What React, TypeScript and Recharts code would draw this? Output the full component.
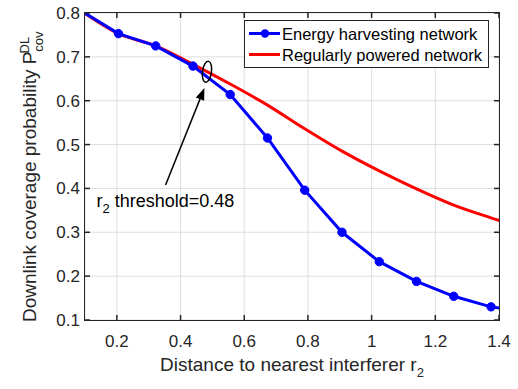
import React from 'react';
import {
  LineChart,
  Line,
  XAxis,
  YAxis,
  CartesianGrid,
  Legend,
  ReferenceDot,
  ReferenceLine,
} from 'recharts';

// distance to nearest interferer r2 (sample points, first and last fall outside the axes)
const distances = [0.088, 0.205, 0.322, 0.439, 0.556, 0.673, 0.79, 0.907, 1.024, 1.141, 1.258, 1.375, 1.492];
const energyHarvesting = [0.805, 0.753, 0.725, 0.679, 0.614, 0.515, 0.396, 0.3, 0.233, 0.188, 0.154, 0.13, 0.118];
const regularlyPowered = [0.805, 0.753, 0.725, 0.683, 0.638, 0.59, 0.536, 0.485, 0.44, 0.399, 0.362, 0.333, 0.306];

const xTicks = [0.2, 0.4, 0.6, 0.8, 1, 1.2, 1.4];
const yTicks = [0.1, 0.2, 0.3, 0.4, 0.5, 0.6, 0.7, 0.8];
const xDomain = [0.1, 1.4];
const yDomain = [0.1, 0.8];

// annotation (data coords)
const thresholdMark = { x: 0.483, y: 0.666 };
const arrowFrom = { x: 0.353, y: 0.408 };
const arrowTo = { x: 0.475, y: 0.629 };
const thresholdText = { x: 0.136, y: 0.358 };

const data = distances.map((x, i) => ({
  x,
  eh: energyHarvesting[i],
  rp: regularlyPowered[i],
}));

const FONT = '"Liberation Sans", Arial, Helvetica, sans-serif';
const AXIS = '#262626';
const GRID = '#dfdfdf';
const TICK_LEN = 5;

// plot box
const W = 518;
const H = 389;
const PLOT = { left: 85, top: 13, right: 499, bottom: 320 };
const sx = (v: number) => PLOT.left + ((v - xDomain[0]) / (xDomain[1] - xDomain[0])) * (PLOT.right - PLOT.left);
const sy = (v: number) => PLOT.bottom - ((v - yDomain[0]) / (yDomain[1] - yDomain[0])) * (PLOT.bottom - PLOT.top);

const BlueDot = (props: any) => {
  const { cx, cy, payload, index } = props;
  if (payload.x < xDomain[0] || payload.x > xDomain[1]) return <g key={index} />;
  return <circle key={index} cx={cx} cy={cy} r={4.2} fill="#0000ff" stroke="#0000ff" />;
};

const LeftTick = (props: any) => {
  const { x, y, payload } = props;
  return (
    <text x={x} y={y} dy="0.35em" textAnchor="end" fontSize={17} fill={AXIS} fontFamily={FONT}>
      {Number(payload.value).toFixed(1)}
    </text>
  );
};

const BottomTick = (props: any) => {
  const { x, y, payload } = props;
  return (
    <text x={x} y={y} dy="0.8em" textAnchor="middle" fontSize={17} fill={AXIS} fontFamily={FONT}>
      {String(payload.value)}
    </text>
  );
};

const YLabel = () => (
  <text transform="translate(36,322) rotate(-90)" fontSize={19} fill={AXIS} fontFamily={FONT}>
    Downlink coverage probability P
    <tspan fontSize={13} dy={7}>cov</tspan>
    <tspan fontSize={13} dx={-22} dy={-14}>DL</tspan>
  </text>
);

const XLabel = () => (
  <text x={292} y={371} textAnchor="middle" fontSize={19} fill={AXIS} fontFamily={FONT}>
    Distance to nearest interferer r
    <tspan fontSize={13} dy={6}>2</tspan>
  </text>
);

const Arrow = (props: any) => {
  const { x1, y1, x2, y2 } = props;
  const ang = Math.atan2(y2 - y1, x2 - x1);
  const len = 12;
  const w = 4.5;
  const bx = x2 - len * Math.cos(ang);
  const by = y2 - len * Math.sin(ang);
  const px = -Math.sin(ang) * w;
  const py = Math.cos(ang) * w;
  return (
    <g>
      <line x1={x1} y1={y1} x2={bx} y2={by} stroke="#000" strokeWidth={1.5} />
      <polygon points={`${x2},${y2} ${bx + px},${by + py} ${bx - px},${by - py}`} fill="#000" />
    </g>
  );
};

const LegendBox = () => (
  <div
    style={{
      border: `1.5px solid ${AXIS}`,
      background: '#fff',
      width: 245,
      height: 48,
      boxSizing: 'border-box',
      fontFamily: FONT,
    }}
  >
    <svg width={242} height={45} style={{ display: 'block' }}>
      <line x1={4} y1={12.5} x2={35} y2={12.5} stroke="#0000ff" strokeWidth={3} />
      <circle cx={20} cy={12.5} r={4.2} fill="#0000ff" />
      <text x={37} y={18.5} fontSize={16.5} fontFamily={FONT} fill="#000">Energy harvesting network</text>
      <line x1={4} y1={33.5} x2={35} y2={33.5} stroke="#ff0000" strokeWidth={3} />
      <text x={37} y={39.5} fontSize={16.5} fontFamily={FONT} fill="#000">Regularly powered network</text>
    </svg>
  </div>
);

// axes box with inward ticks on all four sides, drawn over the chart
const AxesFrame = () => (
  <>
    <div
      style={{
        position: 'absolute',
        left: PLOT.left - 1,
        top: PLOT.top - 1,
        width: PLOT.right - PLOT.left + 2,
        height: PLOT.bottom - PLOT.top + 2,
        border: `1.5px solid ${AXIS}`,
        boxSizing: 'border-box',
        pointerEvents: 'none',
      }}
    />
    <svg
      width={W}
      height={H}
      style={{ position: 'absolute', left: 0, top: 0, pointerEvents: 'none' }}
    >
      {xTicks.map((t) => (
        <g key={`x${t}`}>
          <line x1={sx(t)} y1={PLOT.bottom} x2={sx(t)} y2={PLOT.bottom - TICK_LEN} stroke={AXIS} strokeWidth={1.5} />
          <line x1={sx(t)} y1={PLOT.top} x2={sx(t)} y2={PLOT.top + TICK_LEN} stroke={AXIS} strokeWidth={1.5} />
        </g>
      ))}
      {yTicks.map((t) => (
        <g key={`y${t}`}>
          <line x1={PLOT.left} y1={sy(t)} x2={PLOT.left + TICK_LEN} y2={sy(t)} stroke={AXIS} strokeWidth={1.5} />
          <line x1={PLOT.right} y1={sy(t)} x2={PLOT.right - TICK_LEN} y2={sy(t)} stroke={AXIS} strokeWidth={1.5} />
        </g>
      ))}
    </svg>
  </>
);

export default function App() {
  return (
    <div style={{ position: 'absolute', left: 0, top: 0, width: W, height: H, background: '#fff' }}>
      <LineChart
        width={W}
        height={H}
        data={data}
        margin={{ top: PLOT.top, right: W - PLOT.right, bottom: 0, left: 0 }}
        style={{ fontFamily: FONT }}
      >
        <CartesianGrid stroke={GRID} strokeWidth={1} />
        <XAxis
          dataKey="x"
          type="number"
          domain={xDomain}
          ticks={xTicks}
          allowDataOverflow
          height={H - PLOT.bottom}
          tickSize={0}
          tickMargin={13}
          axisLine={false}
          tickLine={false}
          tick={BottomTick}
          label={{ content: XLabel }}
        />
        <YAxis
          type="number"
          domain={yDomain}
          ticks={yTicks}
          allowDataOverflow
          width={PLOT.left}
          tickSize={0}
          tickMargin={5}
          axisLine={false}
          tickLine={false}
          tick={LeftTick}
          label={{ content: YLabel }}
        />
        <Line
          dataKey="rp"
          type="monotone"
          stroke="#ff0000"
          strokeWidth={3}
          dot={false}
          isAnimationActive={false}
        />
        <Line
          dataKey="eh"
          type="linear"
          stroke="#0000ff"
          strokeWidth={3}
          dot={BlueDot}
          isAnimationActive={false}
        />
        <ReferenceDot
          x={thresholdMark.x}
          y={thresholdMark.y}
          shape={(p: any) => (
            <ellipse
              cx={p.cx}
              cy={p.cy}
              rx={4.5}
              ry={10.5}
              fill="none"
              stroke="#000"
              strokeWidth={1.5}
              transform={`rotate(8 ${p.cx} ${p.cy})`}
            />
          )}
        />
        <ReferenceLine segment={[arrowFrom, arrowTo]} shape={Arrow} />
        <ReferenceDot
          x={thresholdText.x}
          y={thresholdText.y}
          shape={(p: any) => (
            <text x={p.cx} y={p.cy} fontSize={18} fill="#000" fontFamily={FONT}>
              r
              <tspan fontSize={13} dy={6}>2</tspan>
              <tspan dy={-6}> threshold=0.48</tspan>
            </text>
          )}
        />
        <Legend
          layout="vertical"
          align="center"
          verticalAlign="middle"
          wrapperStyle={{ left: 244, top: 20, width: 245, height: 48 }}
          content={LegendBox}
        />
      </LineChart>
      <AxesFrame />
    </div>
  );
}
